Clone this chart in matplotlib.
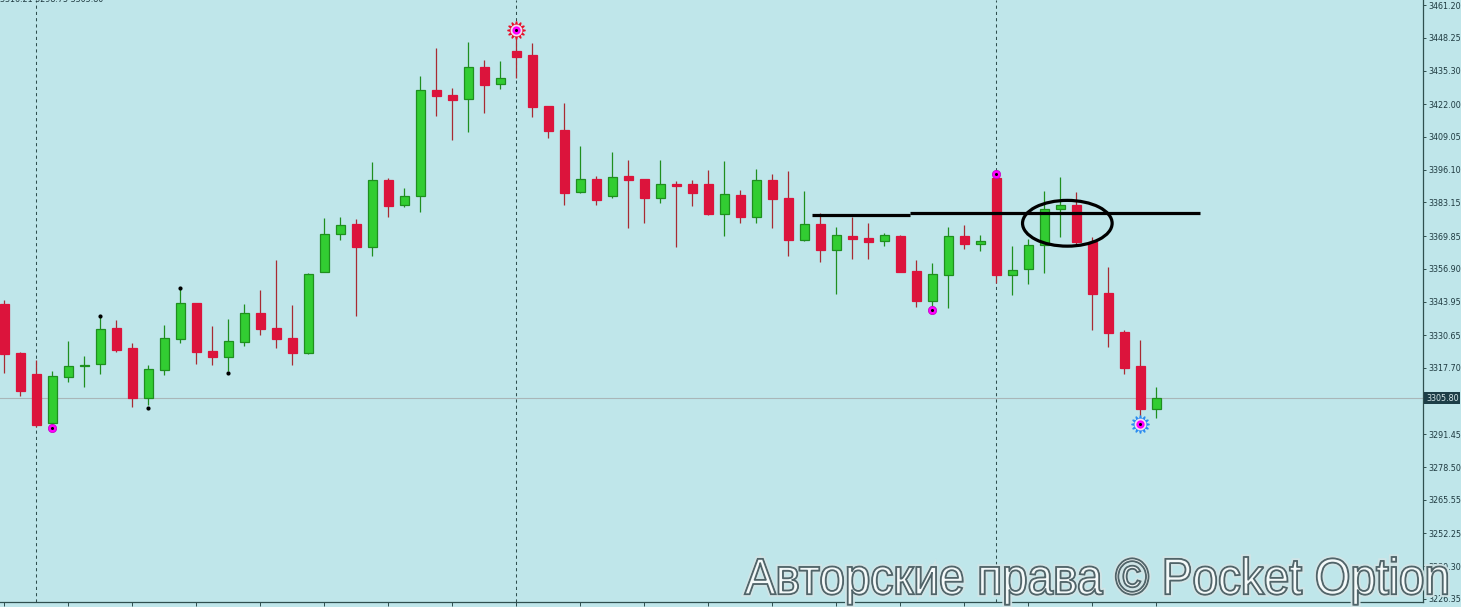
import matplotlib
matplotlib.use("Agg")
import matplotlib.pyplot as plt
import matplotlib.patheffects as pe
from matplotlib.patches import Ellipse, PathPatch
from matplotlib.textpath import TextPath
from matplotlib.font_manager import FontProperties
from matplotlib.transforms import Affine2D, IdentityTransform, blended_transform_factory

# ---------------- data ----------------
opens = [3343.0, 3323.6, 3315.3, 3295.8, 3314.2, 3318.3, 3319.1, 3333.4, 3325.5, 3305.7,
         3317.0, 3329.3, 3343.3, 3324.4, 3322.1, 3327.8, 3339.4, 3333.4, 3329.4, 3323.7,
         3355.8, 3370.7, 3374.6, 3365.5, 3391.9, 3382.2, 3385.6, 3427.6, 3425.5, 3423.9,
         3436.6, 3429.9, 3443.0, 3441.4, 3421.3, 3411.8, 3387.4, 3392.3, 3385.8, 3393.5,
         3392.3, 3385.0, 3390.3, 3390.3, 3390.3, 3378.7, 3386.0, 3377.5, 3391.9, 3384.8,
         3368.2, 3374.5, 3364.2, 3369.9, 3369.1, 3367.8, 3369.9, 3356.0, 3344.3, 3354.6,
         3369.9, 3366.9, 3392.7, 3354.6, 3356.7, 3366.2, 3380.4, 3382.1, 3367.6, 3347.3,
         3331.9, 3318.5, 3301.6]
highs = [3344.5, 3324.0, 3320.8, 3316.5, 3328.4, 3322.4, 3337.8, 3336.6, 3327.6, 3318.9,
         3334.7, 3348.9, 3343.4, 3334.3, 3337.1, 3343.0, 3348.5, 3360.4, 3342.6, 3355.2,
         3377.0, 3377.4, 3376.6, 3399.1, 3392.7, 3388.7, 3433.0, 3444.2, 3428.3, 3446.6,
         3439.3, 3439.1, 3449.7, 3446.2, 3421.3, 3422.5, 3405.4, 3393.5, 3403.1, 3399.9,
         3392.4, 3399.9, 3391.6, 3392.0, 3396.0, 3399.5, 3388.1, 3396.4, 3394.4, 3395.6,
         3387.6, 3378.8, 3373.3, 3377.5, 3375.0, 3371.0, 3370.2, 3360.4, 3359.2, 3373.4,
         3374.2, 3370.2, 3393.2, 3365.8, 3368.6, 3387.6, 3393.2, 3387.3, 3369.4, 3357.6,
         3332.6, 3328.6, 3310.2]
lows = [3315.8, 3306.7, 3294.5, 3294.8, 3312.0, 3310.3, 3315.4, 3324.1, 3302.4, 3303.0,
        3315.0, 3327.7, 3319.4, 3319.0, 3316.5, 3326.5, 3330.8, 3325.7, 3319.0, 3323.3,
        3355.6, 3368.3, 3338.3, 3362.0, 3377.5, 3381.4, 3379.2, 3417.4, 3407.7, 3411.1,
        3418.6, 3428.1, 3432.5, 3417.0, 3408.7, 3382.2, 3387.0, 3382.2, 3385.0, 3373.1,
        3375.1, 3383.0, 3365.6, 3381.9, 3378.3, 3370.0, 3375.1, 3375.1, 3373.1, 3362.1,
        3367.9, 3359.7, 3347.0, 3360.9, 3360.9, 3366.0, 3355.6, 3341.9, 3342.2, 3341.5,
        3364.8, 3364.1, 3351.4, 3346.6, 3351.0, 3355.4, 3369.6, 3366.3, 3332.8, 3326.1,
        3315.4, 3298.7, 3298.0]
closes = [3323.3, 3308.7, 3295.3, 3314.4, 3318.3, 3318.7, 3333.0, 3324.9, 3305.9, 3317.2,
          3329.4, 3343.3, 3324.1, 3322.1, 3328.2, 3339.3, 3333.2, 3329.3, 3323.7, 3354.7,
          3370.7, 3374.2, 3365.5, 3392.0, 3381.8, 3385.6, 3427.5, 3425.3, 3423.8, 3436.6,
          3429.7, 3432.2, 3440.8, 3421.0, 3411.5, 3387.0, 3392.3, 3384.2, 3393.1, 3392.1,
          3385.0, 3390.3, 3389.8, 3387.0, 3378.7, 3386.4, 3377.5, 3391.9, 3384.6, 3368.4,
          3374.5, 3364.2, 3370.1, 3368.8, 3367.6, 3370.1, 3355.8, 3344.3, 3354.7, 3369.7,
          3366.8, 3367.9, 3354.6, 3356.4, 3366.2, 3380.4, 3382.1, 3367.6, 3347.0, 3331.6,
          3317.8, 3301.6, 3305.8]

ytick_values = [3461.20, 3448.25, 3435.30, 3422.00, 3409.05, 3396.10, 3383.15, 3369.85,
                3356.90, 3343.95, 3330.65, 3317.70, 3291.45, 3278.50, 3265.55, 3252.25,
                3239.30, 3226.35]
current_price = 3305.80
header_text = "3316.21 3298.75 3305.80"
watermark_text = "Авторские права © Pocket Option"

separator_idx = [2, 32, 62]
fractal_idx = [3, 58, 62]
fractal_vals = [3294.1, 3340.7, 3394.5]
dot_idx = [6, 9, 11, 14]
dot_vals = [3338.4, 3302.0, 3349.4, 3315.8]
star_red_idx, star_red_val = 32, 3451.3
star_blue_idx, star_blue_val = 71, 3295.5
level_x0 = [50.47, 56.6]
level_x1 = [56.6, 74.7]
level_vals = [3378.2, 3378.8]
ellipse_center = (66.43, 3374.9)
ellipse_size = (5.6, 18.1)

# ---------------- style ----------------
BG = "#bfe6ea"
AX = "#2f4f4f"
UP_FILL, UP_EDGE = "#32cd32", "#1f8f1f"
DN_FILL, DN_EDGE, DN_WICK = "#dc143c", "#dc143c", "#a82a32"

W, H = 1461, 607
fig = plt.figure(figsize=(W / 100, H / 100), dpi=100)
fig.patch.set_facecolor(BG)
ax = fig.add_axes([0, 5 / H, 1423 / W, 602 / H])
ax.set_facecolor(BG)
ax.set_xlim(-0.28, 88.66)
ax.set_ylim(3225.15, 3463.18)

for s in ("top", "left"):
    ax.spines[s].set_visible(False)
for s in ("right", "bottom"):
    ax.spines[s].set_color(AX)
    ax.spines[s].set_linewidth(0.9)

# separators
for i in separator_idx:
    ax.axvline(i, color=AX, lw=0.75, linestyle=(0, (3, 3)), zorder=1)

# current price line
ax.axhline(current_price, color="#a9b6b8", lw=0.8, zorder=1)

# candles
n = len(opens)
for i in range(n):
    o, h, l, c = opens[i], highs[i], lows[i], closes[i]
    up = c >= o
    wick = UP_EDGE if up else DN_WICK
    ax.vlines(i, l, h, color=wick, lw=0.9, zorder=2)
    bottom = min(o, c)
    height = max(abs(c - o), 0.35)
    ax.bar(i, height, bottom=bottom, width=0.6,
           color=UP_FILL if up else DN_FILL,
           edgecolor=UP_EDGE if up else DN_EDGE, linewidth=0.9, zorder=3)

# black fractal dots
ax.plot(dot_idx, dot_vals, "o", color="black", ms=3.0, zorder=5, mec="none")

# magenta markers
ax.plot(fractal_idx, fractal_vals, "o", color="#ff00ff", ms=6.0, mec="#c000c0", mew=0.5, zorder=5)
ax.plot(fractal_idx, fractal_vals, "o", color="black", ms=2.2, mec="none", zorder=6)

# sun markers
for (xi, yv, col) in [(star_red_idx, star_red_val, "#e8102a"), (star_blue_idx, star_blue_val, "#2a8cf0")]:
    ax.plot([xi], [yv], marker=(12, 1, 0), color=col, ms=13, mec=col, zorder=5)
    ax.plot([xi], [yv], "o", color="#f4e0f0", ms=8.5, mec="none", zorder=6)
    ax.plot([xi], [yv], "o", color="#ff00ff", ms=6.0, mec="none", zorder=7)
    ax.plot([xi], [yv], "o", color="black", ms=2.2, mec="none", zorder=8)

# level line
ax.hlines(level_vals, level_x0, level_x1, color="black", lw=2.3, zorder=9)
ax.add_patch(Ellipse(ellipse_center, ellipse_size[0], ellipse_size[1],
                     fill=False, edgecolor="black", lw=2.3, zorder=9))

# axes ticks
ax.yaxis.tick_right()
ax.set_yticks(ytick_values)
ax.set_yticklabels([f"{v:.2f}" for v in ytick_values])
ax.tick_params(axis="y", direction="out", length=2.5, width=0.7, color=AX,
               labelsize=5.8, labelcolor="#1f3a40", pad=1.5)
ax.set_xticks(range(0, n, 4))
ax.set_xticklabels([])
ax.tick_params(axis="x", direction="out", length=3, width=0.7, color=AX)

# current price box
trans = blended_transform_factory(ax.transAxes, ax.transData)
ax.text(1.0 + 3 / 1423, current_price, f"{current_price:.2f}", transform=trans,
        ha="left", va="center", fontsize=5.8, color="#d6e6e8", zorder=10,
        bbox=dict(boxstyle="square,pad=0.2", fc="#1d3e47", ec="none"), clip_on=False)

# header (cut off at top, as in the reference)
fig.text(0.0, 1.0 + 1 / H, header_text, ha="left", va="center", fontsize=5.8, color="#1f3a40")

# watermark as horizontally condensed text path
fp = FontProperties(family="Liberation Sans")
tp = TextPath((0, 0), watermark_text, size=100, prop=fp)
bb = tp.get_extents()
target_w, cap_h = 702.0, 37.0
sx = target_w / bb.width
sy = cap_h / 72.9
tr = Affine2D().translate(-bb.x0, 0).scale(sx, sy).translate(745, H - 594)
path = tr.transform_path(tp)
patch = PathPatch(path, transform=IdentityTransform(), fc="#f6fbfb", ec="#4d6166", lw=1.0,
                  alpha=0.95, zorder=20)
patch.set_path_effects([pe.Stroke(linewidth=4.2, foreground="#d2e4e6"),
                        pe.Stroke(linewidth=1.6, foreground="#4d6166"), pe.Normal()])
fig.add_artist(patch)

fig.savefig("out.png", dpi=100, facecolor=BG)
